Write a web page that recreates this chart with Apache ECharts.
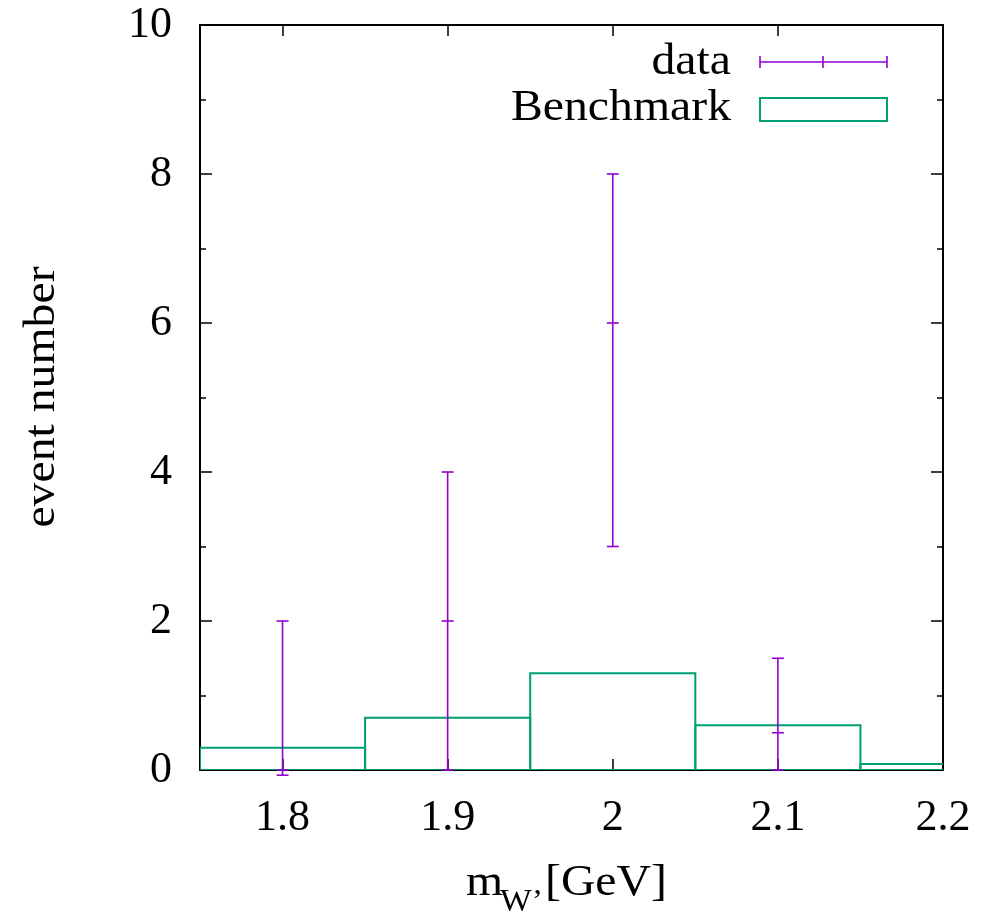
<!DOCTYPE html>
<html>
<head>
<meta charset="utf-8">
<script src="https://cdn.jsdelivr.net/npm/echarts@6/dist/echarts.min.js"></script>
<style>
html,body{margin:0;padding:0;background:#fff;}
#chart{width:985px;height:917px;}
</style>
</head>
<body>
<div id="chart"></div>
<script>
// ---- data ----
var binCenters = [1.8, 1.9, 2.0, 2.1, 2.2];
var binWidth = 0.1;
var benchmark = [0.3, 0.7, 1.3, 0.6, 0.08];

var dataX = [1.8, 1.9, 2.0, 2.1];
var dataY = [0, 2, 6, 0.5];
var dataLow = [-0.07, 0, 3, 0];
var dataHigh = [2, 4, 8, 1.5];

var xTicks = [1.8, 1.9, 2.0, 2.1, 2.2];
var yMin = 0, yMax = 10, yInterval = 2;
var xMin = 1.75, xMax = 2.2;

var FONT = 'Liberation Serif';
var PURPLE = '#9400d3';
var GREEN = '#009e73';
var SX = 1.085;

var histData = binCenters.map(function (c, i) {
  return [c - binWidth / 2, c + binWidth / 2, benchmark[i]];
});
var errData = dataX.map(function (x, i) {
  return [x, dataY[i], dataLow[i], dataHigh[i]];
});

var chart = echarts.init(document.getElementById('chart'), null, {renderer: 'canvas'});

var axisLineStyle = {color: '#000', width: 2};
function xAxisCfg(pos, labels) {
  return {
    type: 'value', position: pos, min: xMin, max: xMax,
    axisLine: {show: true, onZero: false, lineStyle: axisLineStyle},
    axisTick: {show: true, inside: true, length: 11, customValues: xTicks, lineStyle: {color: '#000', width: 1.5}},
    axisLabel: {show: labels, customValues: xTicks, margin: 26, color: '#000', fontFamily: FONT, fontSize: 44,
      formatter: function (v) { return String(Math.round(v * 10) / 10); }},
    splitLine: {show: false}
  };
}
function yAxisCfg(pos, labels) {
  return {
    type: 'value', position: pos, min: yMin, max: yMax, interval: yInterval,
    axisLine: {show: true, onZero: false, lineStyle: axisLineStyle},
    axisTick: {show: true, inside: true, length: 12, lineStyle: {color: '#000', width: 1.5}},
    minorTick: {show: true, splitNumber: 2, length: 6, lineStyle: {color: '#000', width: 1.5}},
    axisLabel: {show: labels, margin: 28, color: '#000', fontFamily: FONT, fontSize: 44},
    splitLine: {show: false}, minorSplitLine: {show: false}
  };
}

var option = {
  backgroundColor: '#fff',
  animation: false,
  grid: {left: 200, right: 42, top: 25, bottom: 147, containLabel: false},
  xAxis: [xAxisCfg('bottom', true), xAxisCfg('top', false)],
  yAxis: [yAxisCfg('left', true), yAxisCfg('right', false)],
  series: [
    {
      name: 'Benchmark', type: 'custom', clip: true,
      xAxisIndex: 0, yAxisIndex: 0,
      data: histData,
      encode: {x: [0, 1], y: 2},
      renderItem: function (params, api) {
        var p1 = api.coord([api.value(0), api.value(2)]);
        var p2 = api.coord([api.value(1), 0]);
        return {
          type: 'rect',
          shape: {x: p1[0], y: p1[1], width: p2[0] - p1[0], height: p2[1] - p1[1]},
          style: {fill: 'none', stroke: GREEN, lineWidth: 2}
        };
      }
    },
    {
      name: 'data', type: 'custom', clip: false,
      xAxisIndex: 0, yAxisIndex: 0,
      data: errData,
      encode: {x: 0, y: [1, 2, 3]},
      renderItem: function (params, api) {
        var x = api.value(0);
        var pc = api.coord([x, api.value(1)]);
        var pl = api.coord([x, api.value(2)]);
        var ph = api.coord([x, api.value(3)]);
        var hw = 6;
        var st = {stroke: PURPLE, lineWidth: 1.6};
        return {
          type: 'group',
          children: [
            {type: 'line', shape: {x1: pl[0], y1: pl[1], x2: ph[0], y2: ph[1]}, style: st},
            {type: 'line', shape: {x1: ph[0] - hw, y1: ph[1], x2: ph[0] + hw, y2: ph[1]}, style: st},
            {type: 'line', shape: {x1: pl[0] - hw, y1: pl[1], x2: pl[0] + hw, y2: pl[1]}, style: st},
            {type: 'line', shape: {x1: pc[0] - hw, y1: pc[1], x2: pc[0] + hw, y2: pc[1]}, style: st}
          ]
        };
      }
    }
  ],
  graphic: [
    // y axis title
    {type: 'text', x: 42, y: 397, rotation: Math.PI / 2, scaleX: SX,
      style: {text: 'event number', fontFamily: FONT, fontSize: 44, fill: '#000', align: 'center', verticalAlign: 'middle'}},
    // x axis title m_{W'}[GeV]
    {type: 'text', x: 466, y: 883, scaleX: SX,
      style: {text: 'm', fontFamily: FONT, fontSize: 44, fill: '#000', align: 'left', verticalAlign: 'middle'}},
    {type: 'text', x: 500, y: 903, scaleX: SX,
      style: {text: 'W\u2019', fontFamily: FONT, fontSize: 31, fill: '#000', align: 'left', verticalAlign: 'middle'}},
    {type: 'text', x: 545, y: 883, scaleX: SX,
      style: {text: '[GeV]', fontFamily: FONT, fontSize: 44, fill: '#000', align: 'left', verticalAlign: 'middle'}},
    // legend
    {type: 'text', x: 731, y: 62, scaleX: SX,
      style: {text: 'data', fontFamily: FONT, fontSize: 44, fill: '#000', align: 'right', verticalAlign: 'middle'}},
    {type: 'text', x: 731, y: 108, scaleX: SX,
      style: {text: 'Benchmark', fontFamily: FONT, fontSize: 44, fill: '#000', align: 'right', verticalAlign: 'middle'}},
    {type: 'line', shape: {x1: 760, y1: 62, x2: 887, y2: 62}, style: {stroke: PURPLE, lineWidth: 1.6}},
    {type: 'line', shape: {x1: 760, y1: 56, x2: 760, y2: 68}, style: {stroke: PURPLE, lineWidth: 1.6}},
    {type: 'line', shape: {x1: 823, y1: 56, x2: 823, y2: 68}, style: {stroke: PURPLE, lineWidth: 1.6}},
    {type: 'line', shape: {x1: 887, y1: 56, x2: 887, y2: 68}, style: {stroke: PURPLE, lineWidth: 1.6}},
    {type: 'rect', shape: {x: 760, y: 98, width: 127, height: 23}, style: {fill: 'none', stroke: GREEN, lineWidth: 2}}
  ]
};
chart.setOption(option);
</script>
</body>
</html>
